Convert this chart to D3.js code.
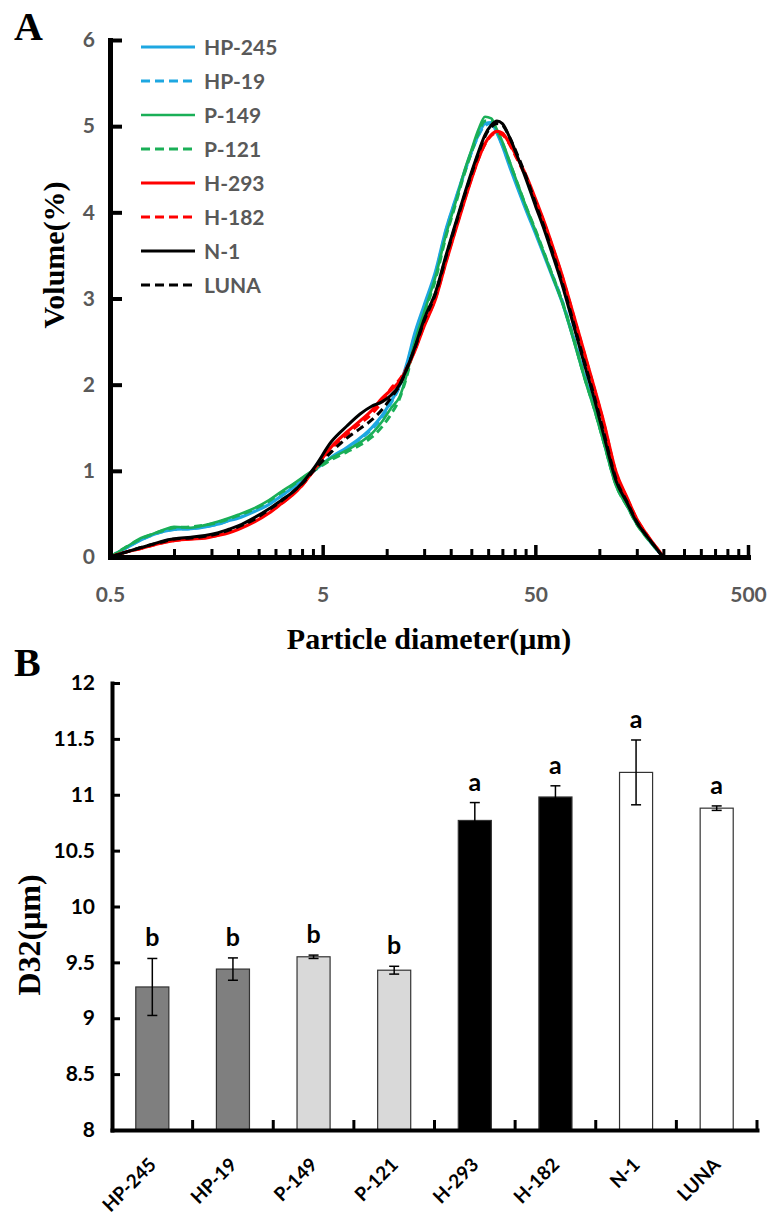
<html>
<head>
  <meta charset="UTF-8">
  <title>Particle size distribution and D32</title>
  <script src="https://d3js.org/d3.v7.min.js"></script>
  <style>
    body { margin: 0; background: #fff; }
    .sans { font-family: Lato, "Open Sans", sans-serif; font-weight: bold; }
    .serif { font-family: "Liberation Serif", "Times New Roman", serif; font-weight: bold; }
  </style>
</head>
<body>
  <svg id="chart" width="769" height="1218"></svg>
  <script>
    /* Data */
    // panel A: particle diameter (um) and volume (%) per variety
    const diam = [0.5, 0.6, 0.7, 0.8, 0.9, 1.0, 1.2, 1.4, 1.6, 1.8, 2.0, 2.4, 2.8, 3.2, 3.6, 4.0, 4.6, 5.5, 6.5, 7.5, 8.5, 9.5, 10.5, 11.5, 12.5, 13.5, 15, 17, 19, 21, 23, 25, 27, 29, 31, 33, 35, 38, 41, 45, 50, 55, 60, 67, 75, 85, 95, 105, 120, 135, 150, 165, 180, 195, 200];
    const hp245 = [0, 0.11, 0.20, 0.26, 0.30, 0.32, 0.33, 0.35, 0.38, 0.42, 0.45, 0.53, 0.61, 0.71, 0.80, 0.89, 1.01, 1.16, 1.27, 1.38, 1.50, 1.64, 1.81, 1.99, 2.26, 2.58, 2.92, 3.32, 3.80, 4.14, 4.44, 4.70, 4.90, 5.03, 5.04, 4.92, 4.77, 4.52, 4.30, 4.04, 3.76, 3.50, 3.26, 2.95, 2.56, 2.10, 1.72, 1.34, 0.84, 0.60, 0.39, 0.25, 0.13, 0.03, 0];
    const hp19 = [0, 0.11, 0.20, 0.26, 0.30, 0.32, 0.33, 0.35, 0.38, 0.42, 0.46, 0.54, 0.62, 0.71, 0.80, 0.89, 1.01, 1.15, 1.26, 1.37, 1.48, 1.62, 1.79, 1.98, 2.24, 2.56, 2.90, 3.30, 3.79, 4.13, 4.43, 4.69, 4.89, 5.01, 5.03, 4.93, 4.78, 4.54, 4.32, 4.06, 3.78, 3.52, 3.28, 2.97, 2.58, 2.12, 1.74, 1.35, 0.85, 0.61, 0.40, 0.25, 0.13, 0.03, 0];
    const p149 = [0, 0.12, 0.22, 0.27, 0.32, 0.35, 0.34, 0.37, 0.41, 0.45, 0.49, 0.57, 0.66, 0.76, 0.84, 0.92, 1.02, 1.15, 1.24, 1.33, 1.43, 1.57, 1.73, 1.86, 2.14, 2.48, 2.84, 3.26, 3.74, 4.10, 4.45, 4.72, 4.96, 5.11, 5.09, 4.96, 4.82, 4.58, 4.35, 4.08, 3.79, 3.52, 3.27, 2.95, 2.55, 2.08, 1.70, 1.32, 0.82, 0.59, 0.38, 0.24, 0.13, 0.03, 0];
    const p121 = [0, 0.12, 0.21, 0.27, 0.31, 0.34, 0.35, 0.37, 0.40, 0.44, 0.48, 0.56, 0.65, 0.75, 0.83, 0.91, 1.01, 1.13, 1.22, 1.30, 1.39, 1.51, 1.66, 1.84, 2.12, 2.45, 2.82, 3.23, 3.72, 4.08, 4.42, 4.69, 4.92, 5.06, 5.06, 4.95, 4.81, 4.57, 4.35, 4.08, 3.80, 3.53, 3.28, 2.96, 2.57, 2.09, 1.71, 1.33, 0.83, 0.59, 0.38, 0.24, 0.13, 0.03, 0];
    const h293 = [0, 0.06, 0.10, 0.14, 0.17, 0.19, 0.21, 0.22, 0.25, 0.28, 0.32, 0.41, 0.51, 0.62, 0.72, 0.83, 1.03, 1.28, 1.45, 1.58, 1.70, 1.84, 1.94, 2.04, 2.20, 2.38, 2.68, 3.00, 3.42, 3.78, 4.10, 4.38, 4.62, 4.80, 4.90, 4.94, 4.92, 4.79, 4.64, 4.44, 4.16, 3.89, 3.62, 3.26, 2.84, 2.37, 1.95, 1.56, 0.98, 0.69, 0.44, 0.28, 0.15, 0.04, 0];
    const h182 = [0, 0.06, 0.10, 0.14, 0.17, 0.19, 0.21, 0.23, 0.25, 0.29, 0.33, 0.42, 0.52, 0.62, 0.72, 0.83, 1.02, 1.26, 1.42, 1.55, 1.66, 1.80, 1.96, 2.06, 2.21, 2.39, 2.69, 3.01, 3.43, 3.79, 4.11, 4.39, 4.62, 4.79, 4.89, 4.92, 4.90, 4.78, 4.62, 4.42, 4.14, 3.88, 3.61, 3.25, 2.83, 2.36, 1.94, 1.55, 0.97, 0.68, 0.44, 0.28, 0.15, 0.04, 0];
    const n1 = [0, 0.06, 0.11, 0.15, 0.19, 0.21, 0.23, 0.25, 0.28, 0.32, 0.36, 0.46, 0.56, 0.66, 0.75, 0.86, 1.05, 1.34, 1.52, 1.66, 1.75, 1.80, 1.88, 2.00, 2.20, 2.42, 2.76, 3.08, 3.50, 3.86, 4.18, 4.46, 4.70, 4.90, 5.01, 5.06, 5.03, 4.86, 4.66, 4.40, 4.08, 3.80, 3.52, 3.15, 2.72, 2.24, 1.82, 1.41, 0.88, 0.63, 0.40, 0.26, 0.14, 0.03, 0];
    const luna = [0, 0.06, 0.11, 0.15, 0.18, 0.21, 0.22, 0.24, 0.27, 0.31, 0.35, 0.44, 0.55, 0.65, 0.75, 0.85, 1.02, 1.22, 1.38, 1.49, 1.59, 1.71, 1.85, 1.99, 2.20, 2.41, 2.74, 3.06, 3.48, 3.84, 4.16, 4.44, 4.68, 4.88, 4.99, 5.03, 5.01, 4.86, 4.68, 4.43, 4.11, 3.83, 3.55, 3.18, 2.75, 2.27, 1.85, 1.44, 0.90, 0.64, 0.41, 0.26, 0.14, 0.03, 0];

    const volTicks = [0, 1, 2, 3, 4, 5, 6];
    const diamMajor = [0.5, 5, 50, 500];
    const diamMinor = [1, 1.5, 2, 2.5, 3, 3.5, 4, 4.5, 10, 15, 20, 25, 30, 35, 40, 45, 100, 150, 200, 250, 300, 350, 400, 450];

    // panel B: D32 per variety
    const varieties = ["HP-245", "HP-19", "P-149", "P-121", "H-293", "H-182", "N-1", "LUNA"];
    const d32 = [9.28, 9.44, 9.55, 9.43, 10.77, 10.98, 11.20, 10.88];
    const d32Err = [0.255, 0.10, 0.015, 0.035, 0.16, 0.10, 0.29, 0.02];
    const letters = ["b", "b", "b", "b", "a", "a", "a", "a"];
    const d32Ticks = [8, 8.5, 9, 9.5, 10, 10.5, 11, 11.5, 12];

    /* Styles */
    const blue = "#1ea7e1", green = "#1aaf57", red = "#ff0000";
    const series = [
      { name: "HP-245", values: hp245, color: blue, dash: null, w: 3.2 },
      { name: "HP-19", values: hp19, color: blue, dash: "8,5", w: 3 },
      { name: "P-149", values: p149, color: green, dash: null, w: 2.6 },
      { name: "P-121", values: p121, color: green, dash: "8,5", w: 3 },
      { name: "H-293", values: h293, color: red, dash: null, w: 3.2 },
      { name: "H-182", values: h182, color: red, dash: "8,5", w: 3 },
      { name: "N-1", values: n1, color: "#000", dash: null, w: 3 },
      { name: "LUNA", values: luna, color: "#000", dash: "8,5", w: 3 }
    ];
    const barFill = { "HP-245": "#7f7f7f", "HP-19": "#7f7f7f", "P-149": "#d9d9d9", "P-121": "#d9d9d9",
                      "H-293": "#000", "H-182": "#000", "N-1": "#fff", "LUNA": "#fff" };

    const svg = d3.select("#chart");
    svg.append("rect").attr("width", 769).attr("height", 1218).attr("fill", "#fff");

    /* Panel A */
    const xA = d3.scaleLog().domain([0.5, 500]).range([110, 748]);
    const yA = d3.scaleLinear().domain([0, 6]).range([557, 40]);
    const gA = svg.append("g");

    const lineGen = d3.line()
      .x(d => xA(d[0]))
      .y(d => yA(d[1]))
      .curve(d3.curveMonotoneX);

    series.forEach(s => {
      gA.append("path")
        .datum(diam.map((d, i) => [d, s.values[i]]))
        .attr("d", lineGen)
        .attr("fill", "none")
        .attr("stroke", s.color)
        .attr("stroke-width", s.w)
        .attr("stroke-dasharray", s.dash)
        .attr("stroke-linejoin", "round");
    });

    // x axis: minor ticks then major ticks with labels
    gA.append("g")
      .attr("transform", `translate(0, ${yA(0)})`)
      .call(d3.axisBottom(xA).tickValues(diamMinor).tickSize(-8).tickSizeOuter(0).tickFormat(""))
      .call(g => g.select(".domain").remove())
      .call(g => g.selectAll(".tick line").attr("stroke", "#000").attr("stroke-width", 3));

    gA.append("g")
      .attr("transform", `translate(0, ${yA(0)})`)
      .call(d3.axisBottom(xA).tickValues(diamMajor).tickSize(-12).tickSizeOuter(0).tickPadding(30).tickFormat(d => d))
      .call(g => g.select(".domain").attr("stroke", "#000").attr("stroke-width", 5).attr("stroke-linecap", "square"))
      .call(g => g.selectAll(".tick line").attr("stroke", "#000").attr("stroke-width", 3.5))
      .call(g => g.selectAll(".tick text").attr("class", "sans").attr("font-size", 21).attr("fill", "#595959"));

    gA.append("g")
      .attr("transform", `translate(${xA(0.5)}, 0)`)
      .call(d3.axisLeft(yA).tickValues(volTicks).tickSize(-12).tickSizeOuter(0).tickPadding(15).tickFormat(d => d))
      .call(g => g.select(".domain").attr("stroke", "#000").attr("stroke-width", 5).attr("stroke-linecap", "square"))
      .call(g => g.selectAll(".tick line").attr("stroke", "#000").attr("stroke-width", 4))
      .call(g => g.selectAll(".tick text").attr("class", "sans").attr("font-size", 21).attr("fill", "#595959"));

    // legend
    series.forEach((s, i) => {
      const ly = 47 + i * 34;
      gA.append("line")
        .attr("x1", 141).attr("x2", 195).attr("y1", ly).attr("y2", ly)
        .attr("stroke", s.color).attr("stroke-width", s.w)
        .attr("stroke-dasharray", s.dash ? "9,5" : null);
      gA.append("text")
        .attr("class", "sans")
        .attr("x", 204).attr("y", ly + 8)
        .attr("font-size", 21).attr("fill", "#595959")
        .text(s.name);
    });

    gA.append("text").attr("class", "serif").attr("font-size", 30)
      .attr("transform", "translate(64, 255) rotate(-90)")
      .attr("text-anchor", "middle").text("Volume(%)");
    gA.append("text").attr("class", "serif").attr("font-size", 30)
      .attr("x", 429).attr("y", 649).attr("text-anchor", "middle").text("Particle diameter(μm)");
    gA.append("text").attr("class", "serif").attr("font-size", 40)
      .attr("x", 14).attr("y", 40).text("A");

    /* Panel B */
    const xB = d3.scaleBand().domain(varieties).range([112, 757]);
    const yB = d3.scaleLinear().domain([8, 12]).range([1130, 683]);
    const bw = xB.bandwidth();
    const barW = bw * 0.41;
    const gB = svg.append("g");

    varieties.forEach((v, i) => {
      const cx = xB(v) + bw / 2;
      gB.append("rect")
        .attr("x", cx - barW / 2).attr("y", yB(d32[i]))
        .attr("width", barW).attr("height", yB(8) - yB(d32[i]))
        .attr("fill", barFill[v]).attr("stroke", "#333").attr("stroke-width", 1.2);
      const top = yB(d32[i] + d32Err[i]);
      const bot = yB(d32[i] - d32Err[i]);
      gB.append("line").attr("x1", cx).attr("x2", cx).attr("y1", top).attr("y2", bot)
        .attr("stroke", "#000").attr("stroke-width", 1.5);
      [top, bot].forEach(yy => {
        gB.append("line").attr("x1", cx - 5).attr("x2", cx + 5).attr("y1", yy).attr("y2", yy)
          .attr("stroke", "#000").attr("stroke-width", 1.5);
      });
      gB.append("text").attr("class", "sans")
        .attr("x", cx).attr("y", top - 12)
        .attr("text-anchor", "middle").attr("font-size", 25).attr("fill", "#000")
        .text(letters[i]);
      gB.append("text").attr("class", "sans")
        .attr("text-anchor", "end").attr("font-size", 19).attr("fill", "#000")
        .attr("transform", `translate(${cx + 5}, 1166) rotate(-45)`)
        .text(v);
      // category boundary ticks
      gB.append("line")
        .attr("x1", xB(v) + bw).attr("x2", xB(v) + bw)
        .attr("y1", yB(8)).attr("y2", yB(8) - 10)
        .attr("stroke", "#000").attr("stroke-width", 3);
    });

    gB.append("g")
      .attr("transform", `translate(0, ${yB(8)})`)
      .call(d3.axisBottom(xB).tickSize(0).tickSizeOuter(0).tickFormat(""))
      .call(g => g.select(".domain").attr("stroke", "#000").attr("stroke-width", 4).attr("stroke-linecap", "square"));

    gB.append("g")
      .attr("transform", `translate(112, 0)`)
      .call(d3.axisLeft(yB).tickValues(d32Ticks).tickSize(-8).tickSizeOuter(0).tickPadding(17).tickFormat(d => String(d)))
      .call(g => g.select(".domain").attr("stroke", "#000").attr("stroke-width", 4).attr("stroke-linecap", "square"))
      .call(g => g.selectAll(".tick line").attr("stroke", "#000").attr("stroke-width", 3))
      .call(g => g.selectAll(".tick text").attr("class", "sans").attr("font-size", 21).attr("fill", "#000"));

    gB.append("text").attr("class", "serif").attr("font-size", 32)
      .attr("transform", "translate(40, 935) rotate(-90)")
      .attr("text-anchor", "middle").text("D32(μm)");
    gB.append("text").attr("class", "serif").attr("font-size", 40)
      .attr("x", 14).attr("y", 676).text("B");
  </script>
</body>
</html>
